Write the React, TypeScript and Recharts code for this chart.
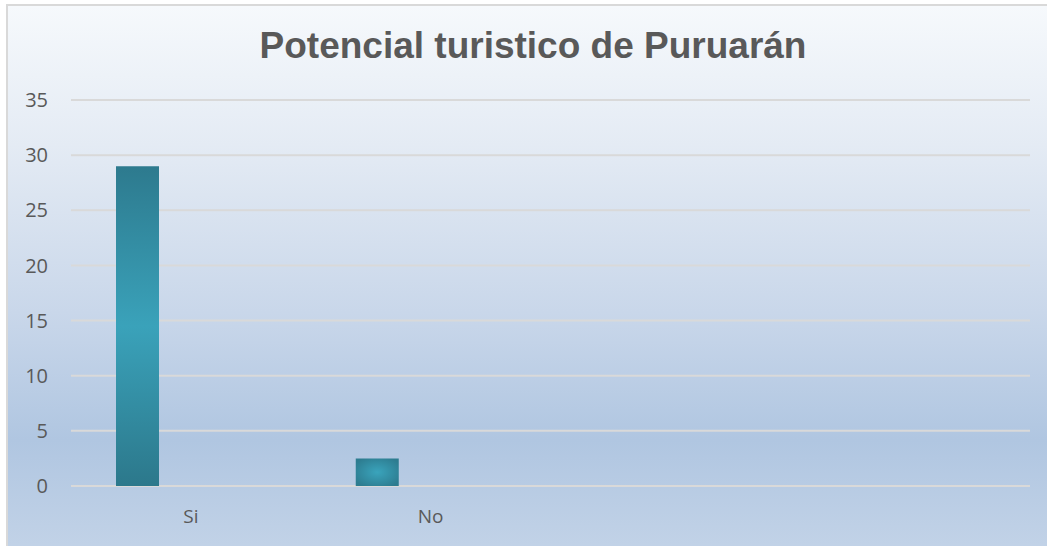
import { Bar, BarChart, CartesianGrid, Cell, XAxis, YAxis } from "recharts";

const categories = ["Si", "No", "", ""];
const serie1 = [29, 2.5, null, null];
const serie2 = [null, null, null, null];
const serie3 = [null, null, null, null];
const yTicks = [0, 5, 10, 15, 20, 25, 30, 35];

const rows = categories.map((name, i) => ({
  name,
  serie1: serie1[i],
  serie2: serie2[i],
  serie3: serie3[i]
}));

const labelFont = "'Open Sans', 'Liberation Sans', sans-serif";

export default function App() {
  return (
    <div style={{ position: "fixed", left: 0, top: 0, width: 1047, height: 546, overflow: "hidden", background: "#fff" }}>
      <div
        style={{
          position: "absolute",
          left: 6,
          top: 4,
          width: 1060,
          height: 560,
          border: "2px solid #d9d9d9",
          boxSizing: "border-box",
          background: "linear-gradient(to bottom, #f6f9fc 0%, #e4ebf4 25%, #c9d7ea 55%, #b0c6e1 78%, #c4d4e8 100%)"
        }}
      />
      <div
        style={{
          position: "absolute",
          left: 0,
          width: 1066,
          top: 24,
          textAlign: "center",
          fontFamily: "'Liberation Sans', Arial, sans-serif",
          fontWeight: 700,
          fontSize: 37,
          color: "#595959",
          lineHeight: "44px"
        }}
      >
        Potencial turistico de Puruarán
      </div>
      <div style={{ position: "absolute", left: 0, top: 0 }}>
        <BarChart
          width={1047}
          height={546}
          data={rows}
          margin={{ top: 100, right: 17, bottom: 0, left: 0 }}
          barSize={43}
          barGap={10}
        >
          <defs>
            <linearGradient id="siFill" x1="0" y1="0" x2="0" y2="1">
              <stop offset="0%" stopColor="#2d7a8e" />
              <stop offset="50%" stopColor="#3aa2ba" />
              <stop offset="100%" stopColor="#2c788b" />
            </linearGradient>
            <radialGradient id="noFill" cx="0.5" cy="0.5" r="0.6">
              <stop offset="0%" stopColor="#3aa4bc" />
              <stop offset="100%" stopColor="#2d7c90" />
            </radialGradient>
          </defs>
          <CartesianGrid stroke="#d9d9d9" strokeWidth={2} vertical={false} />
          <XAxis
            dataKey="name"
            axisLine={false}
            tickLine={false}
            height={60}
            tickMargin={18}
            tick={{ fill: "#595959", fontSize: 19, fontFamily: labelFont }}
          />
          <YAxis
            width={71}
            domain={[0, 35]}
            ticks={yTicks}
            axisLine={false}
            tickLine={false}
            tickMargin={17}
            tick={{ fill: "#595959", fontSize: 20, fontFamily: labelFont }}
          />
          <Bar dataKey="serie1" name="Serie1" isAnimationActive={false}>
            {rows.map((r, i) => (
              <Cell key={r.name + i} fill={i === 0 ? "url(#siFill)" : "url(#noFill)"} />
            ))}
          </Bar>
          <Bar dataKey="serie2" name="Serie2" fill="#4f81bd" isAnimationActive={false} />
          <Bar dataKey="serie3" name="Serie3" fill="#c0504d" isAnimationActive={false} />
        </BarChart>
      </div>
    </div>
  );
}
